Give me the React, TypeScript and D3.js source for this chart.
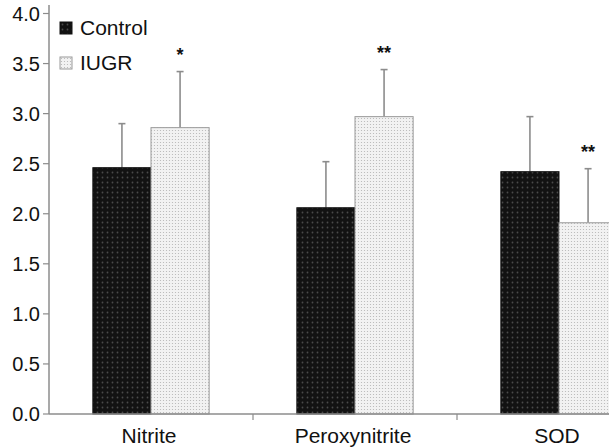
import React from "react";
import * as d3 from "d3";

// chart data
const categories = ["Nitrite", "Peroxynitrite", "SOD"];
const groups = ["Control", "IUGR"];
const controlValues = [2.46, 2.06, 2.42];
const controlErrors = [0.44, 0.46, 0.55];
const iugrValues = [2.86, 2.97, 1.91];
const iugrErrors = [0.56, 0.47, 0.54];
const significance = ["*", "**", "**"];
const yTicks = [0, 0.5, 1, 1.5, 2, 2.5, 3, 3.5, 4];

const width = 609;
const height = 448;
const axisX = 49;
const baseY = 414;
const axisColor = "#8c8c8c";
const font = "'Liberation Sans', Arial, sans-serif";

const App = () => {
  // y scale: 0 at the baseline, 4.0 near the top
  const y = d3.scaleLinear().domain([0, 4]).range([baseY, 13.5]);

  // outer band per category, inner band per group
  const x0 = d3
    .scaleBand<string>()
    .domain(categories)
    .range([axisX, axisX + 612])
    .paddingInner(0.43)
    .paddingOuter(0.215);
  const x1 = d3
    .scaleBand<string>()
    .domain(groups)
    .range([0, x0.bandwidth()]);

  const step = x0.step();
  const series = [
    { key: "Control", values: controlValues, errors: controlErrors, fill: "url(#patControl)", stroke: "#111" },
    { key: "IUGR", values: iugrValues, errors: iugrErrors, fill: "url(#patIugr)", stroke: "#9a9a9a" },
  ];

  return (
    <svg width={width} height={height} style={{ position: "absolute", left: 0, top: 0, background: "#fff" }}>
      <defs>
        <pattern id="patControl" width="5" height="5" patternUnits="userSpaceOnUse">
          <rect width="5" height="5" fill="#121212" />
          <circle cx="2.5" cy="2.5" r="0.9" fill="#4a4a4a" />
        </pattern>
        <pattern id="patIugr" width="3" height="3" patternUnits="userSpaceOnUse">
          <rect width="3" height="3" fill="#f2f2f2" />
          <circle cx="1.5" cy="1.5" r="0.6" fill="#b4b4b4" />
        </pattern>
      </defs>

      {/* bars with upper error bars */}
      {categories.map((c, i) => (
        <g key={c}>
          {series.map((s) => {
            const bx = (x0(c) ?? 0) + (x1(s.key) ?? 0);
            const bw = x1.bandwidth();
            const cx = bx + bw / 2;
            const top = y(s.values[i]);
            const errTop = y(s.values[i] + s.errors[i]);
            return (
              <g key={s.key}>
                <line x1={cx} x2={cx} y1={top} y2={errTop} stroke={axisColor} strokeWidth={1.6} />
                <line x1={cx - 3.5} x2={cx + 3.5} y1={errTop} y2={errTop} stroke={axisColor} strokeWidth={1.6} />
                <rect x={bx} y={top} width={bw} height={baseY - top} fill={s.fill} stroke={s.stroke} strokeWidth={1} />
              </g>
            );
          })}
          {/* significance marks above the IUGR error bar */}
          <text
            x={(x0(c) ?? 0) + (x1("IUGR") ?? 0) + x1.bandwidth() / 2}
            y={y(iugrValues[i] + iugrErrors[i]) - 11}
            textAnchor="middle"
            fontFamily={font}
            fontWeight="bold"
            fontSize={18}
            fill="#111"
          >
            {significance[i]}
          </text>
        </g>
      ))}

      {/* y axis */}
      <line x1={axisX} x2={axisX} y1={5} y2={baseY} stroke={axisColor} strokeWidth={1.5} />
      {yTicks.map((t) => (
        <g key={t}>
          <line x1={axisX - 6} x2={axisX} y1={y(t)} y2={y(t)} stroke={axisColor} strokeWidth={1.2} />
          <text
            x={axisX - 9}
            y={y(t)}
            dy="0.36em"
            textAnchor="end"
            fontFamily={font}
            fontSize={20}
            fill="#111"
          >
            {t.toFixed(1)}
          </text>
        </g>
      ))}

      {/* x axis */}
      <line x1={axisX} x2={width} y1={baseY} y2={baseY} stroke={axisColor} strokeWidth={1.5} />
      {categories.slice(1).map((c) => (
        <line
          key={c}
          x1={(x0(c) ?? 0) - (step - x0.bandwidth()) / 2}
          x2={(x0(c) ?? 0) - (step - x0.bandwidth()) / 2}
          y1={baseY}
          y2={baseY + 6}
          stroke={axisColor}
          strokeWidth={1.2}
        />
      ))}
      {categories.map((c) => (
        <text
          key={c}
          x={(x0(c) ?? 0) + x0.bandwidth() / 2 - 2}
          y={443}
          textAnchor="middle"
          fontFamily={font}
          fontSize={21}
          fill="#111"
        >
          {c}
        </text>
      ))}

      {/* legend */}
      {series.map((s, i) => (
        <g key={s.key} transform={`translate(60, ${22 + i * 35})`}>
          <rect width={12} height={12} fill={s.fill} stroke={s.stroke} strokeWidth={1} />
          <text x={20} y={13} fontFamily={font} fontSize={21} fill="#111">
            {s.key}
          </text>
        </g>
      ))}
    </svg>
  );
};

export default App;
